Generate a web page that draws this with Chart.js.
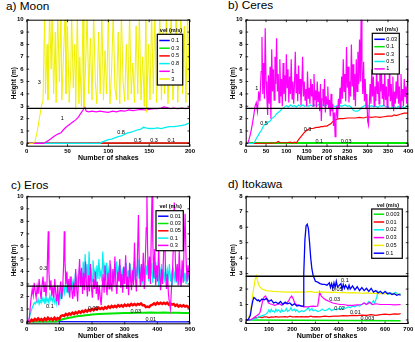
<!DOCTYPE html>
<html>
<head>
<meta charset="utf-8">
<script src="https://cdn.jsdelivr.net/npm/chart.js"></script>
<style>
  body { margin: 0; background: #fff; width: 415px; height: 342px; position: relative; overflow: hidden;
         font-family: "Liberation Sans", Arial, sans-serif; }
  canvas { position: absolute; }
  .ttl { position: absolute; font-size: 11.8px; line-height: 12px; color: #000; white-space: nowrap; }
</style>
</head>
<body>
<div class="ttl" style="left:6px;top:0px">a) Moon</div>
<div class="ttl" style="left:228px;top:-1px">b) Ceres</div>
<div class="ttl" style="left:11px;top:179px">c) Eros</div>
<div class="ttl" style="left:228px;top:177.5px">d) Itokawa</div>
<canvas id="ca" width="207" height="171" style="left:0;top:0"></canvas>
<canvas id="cb" width="208" height="171" style="left:207px;top:0"></canvas>
<canvas id="cc" width="207" height="171" style="left:0;top:171px"></canvas>
<canvas id="cd" width="208" height="171" style="left:207px;top:171px"></canvas>
<script>
// ---- a) Moon, vel (m/s) 0.1 0.3 0.5 0.8 1 3
const moonVel = ['0.1', '0.3', '0.5', '0.8', '1', '3'];
const moon01 = [[0,0],[200,0]];
const moon03 = [[0,0.01],[200,0.01]];
const moon05 = [[0,0],[60,0.01],[120,0.02],[200,0.03]];
const moon08 = [[0,0],[90,0],[92,0.1],[96,0.2],[100,0.3],[104,0.35],[108,0.45],[112,0.55],[116,0.6],[120,0.75],[124,0.85],[128,0.9],[132,1.0],[136,1.1],[140,1.15],[143,1.3],[146,1.25],[150,1.2],[155,1.2],[160,1.25],[165,1.2],[170,1.3],[175,1.35],[180,1.35],[185,1.4],[190,1.45],[194,1.5],[197,1.6],[200,1.65]];
const moon1 = [[0,0],[20,0],[22,0.05],[26,0.2],[30,0.4],[34,0.6],[38,0.75],[42,0.85],[45,1.1],[48,1.3],[52,1.5],[56,1.7],[60,1.9],[63,2.1],[66,2.4],[69,2.7],[71,2.95],[73,2.6],[76,2.55],[80,2.6],[85,2.55],[90,2.6],[95,2.55],[100,2.5],[105,2.6],[110,2.55],[115,2.65],[120,2.6],[125,2.7],[130,2.65],[135,2.7],[140,2.75],[145,2.7],[150,2.75],[155,2.8],[160,2.8],[165,2.85],[168,2.95],[172,2.9],[176,2.8],[180,2.85],[185,2.8],[190,2.85],[195,2.8],[200,2.9]];
const moon3 = [[0,0],[8,0],[10,0.1],[13,1],[16,2.2],[18,3.0],[20,3.5],[22,10.5],[23,4],[25,8],[26,3.5],[28,10.5],[30,6],[31,10.5],[33,4],[35,9],[36,3.3],[38,10.5],[40,5],[42,10.5],[43,3.5],[45,7],[47,10.5],[48,4],[50,9.5],[52,3.3],[54,6],[55,10.5],[57,4.5],[59,8],[60,2.7],[62,10.5],[64,3.2],[65,7],[67,3],[69,10.5],[70,2.9],[72,6],[74,10.5],[76,4],[78,8.5],[80,3.5],[82,10.5],[84,5],[86,3.2],[88,9],[90,4],[92,10.5],[94,3.5],[96,7.5],[98,4],[100,10.5],[102,3.2],[104,6],[106,10.5],[108,4.5],[110,3.5],[112,9],[114,3.2],[116,10.5],[118,5],[120,3.4],[122,8],[124,3.5],[126,10.5],[128,4],[130,6.5],[132,3.3],[134,9.5],[136,4],[138,10.5],[140,3.5],[142,7],[144,3],[146,10.5],[147,2.5],[149,8],[151,3.5],[153,10.5],[155,4],[157,10.5],[159,3.3],[161,6],[163,10.5],[165,3.5],[167,9],[169,4],[171,10.5],[173,3.2],[175,7],[177,10.5],[179,3.5],[181,5.5],[183,10.5],[185,3.3],[187,8],[189,10.5],[191,4],[193,9.5],[195,3.3],[197,10.5],[199,5],[200,10.5]];
const moonLabels = [[15.4,4.9,'3'],[43.6,2.0,'1'],[115.5,0.89,'0.8'],[136,0.21,'0.5'],[156,0.21,'0.3'],[177,0.21,'0.1']];

// ---- b) Ceres, vel (m/s) 0.03 0.1 0.3 0.5 1
const ceresVel = ['0.03', '0.1', '0.3', '0.5', '1'];
const ceres003 = [[0,0],[400,0]];
const ceres01 = [[0,0.02],[400,0.02]];
const ceres03 = [[0,0],[20,0],[40,0.01],[60,0.02],[75,0.05],[80,0.15],[85,0.05],[100,0.05],[110,0.1],[115,0.03],[120,0.1],[125,0.05],[130,0.3],[135,0.5],[140,0.7],[145,0.9],[150,1.05],[155,1.15],[160,1.2],[165,1.2],[170,1.25],[175,1.3],[180,1.3],[185,1.35],[190,1.35],[195,1.4],[200,1.4],[205,1.5],[210,1.6],[214,1.75],[218,1.85],[225,1.95],[230,2.0],[240,2.0],[250,2.05],[260,2.05],[270,2.05],[280,2.1],[290,2.05],[300,2.15],[310,2.1],[320,2.15],[330,2.1],[340,2.15],[350,2.2],[360,2.2],[365,2.3],[370,2.25],[380,2.35],[390,2.45],[400,2.45]];
const ceres05 = [[0,0],[18,0],[22,0.1],[26,0.4],[30,0.6],[34,0.85],[38,1.0],[42,1.3],[46,1.5],[50,1.6],[55,1.7],[60,1.8],[64,2.0],[68,2.1],[72,2.2],[76,2.4],[80,2.5],[84,2.6],[88,2.75],[92,2.85],[96,2.95],[100,3.05],[105,2.95],[110,3.1],[115,3.0],[120,3.05],[125,2.95],[130,3.1],[135,3.0],[140,3.1],[145,3.0],[150,3.05],[155,3.0],[160,3.1],[165,3.0],[170,3.1],[175,3.05],[180,3.15],[185,3.05],[190,3.1],[195,3.0],[200,3.1],[205,3.2],[210,3.0],[215,3.05],[220,2.95],[225,3.05],[230,3.1],[235,3.0],[240,3.05],[245,3.1],[250,3.0],[255,3.05],[260,2.9],[265,2.65],[270,2.6],[275,2.6],[280,2.7],[285,2.9],[290,3.0],[295,3.1],[300,3.05],[305,3.0],[310,3.05],[315,2.95],[320,3.0],[325,2.9],[330,3.05],[335,3.0],[340,3.1],[345,2.95],[350,3.0],[355,2.8],[360,2.9],[365,3.1],[370,2.8],[375,3.0],[380,2.9],[385,3.0],[390,2.85],[395,3.0],[400,2.95]];
const ceres1 = [[0,0],[5,0],[8,0.3],[12,0.8],[16,1.5],[20,2.3],[23,3.0],[26,3.3],[29,2.6],[32,4.2],[35,3.4],[38,5.8],[40,8.6],[42,4.0],[44,6.5],[46,3.6],[48,9.3],[50,5.0],[52,3.8],[54,2.3],[56,5.5],[58,3.2],[60,6.2],[62,2.0],[64,7.6],[66,4.2],[68,6.0],[70,3.5],[72,7.0],[74,4.8],[76,8.5],[78,4.2],[80,5.6],[82,3.3],[84,6.8],[86,3.8],[88,5.2],[90,3.0],[92,6.5],[94,4.0],[96,5.5],[98,3.4],[100,7.2],[102,4.5],[104,6.0],[106,3.3],[108,5.4],[110,4.0],[112,6.8],[114,3.6],[116,5.0],[118,3.2],[120,4.8],[122,7.4],[124,4.1],[126,5.6],[128,3.4],[130,6.3],[132,4.0],[134,5.2],[136,3.1],[138,4.6],[140,7.0],[142,3.8],[144,5.0],[146,3.5],[148,4.4],[150,3.0],[152,5.8],[154,3.6],[156,4.5],[158,3.2],[160,5.2],[162,3.8],[164,4.8],[166,3.0],[168,5.6],[170,3.5],[172,4.3],[174,2.9],[176,5.0],[178,3.4],[180,4.2],[182,2.6],[184,4.8],[186,1.8],[188,3.6],[190,4.4],[192,3.0],[194,5.2],[196,2.5],[198,3.8],[200,3.2],[202,4.6],[204,2.8],[206,3.5],[208,2.2],[210,4.0],[212,2.6],[214,3.2],[216,1.4],[218,2.5],[220,0.55],[222,2.2],[224,3.0],[226,2.0],[228,3.6],[230,2.8],[232,4.5],[234,3.2],[236,5.4],[238,3.6],[240,6.8],[242,4.2],[244,5.6],[246,3.4],[248,7.8],[250,4.5],[252,6.2],[254,3.3],[256,5.0],[258,3.8],[260,8.0],[262,4.6],[264,6.4],[266,3.5],[268,5.6],[270,3.0],[272,6.8],[274,4.2],[276,7.4],[278,4.8],[280,8.4],[282,5.0],[284,10.4],[286,6.0],[288,4.0],[290,6.6],[292,3.4],[294,5.2],[296,2.8],[298,4.0],[300,1.8],[302,1.5],[304,3.0],[306,4.8],[308,3.2],[310,6.0],[312,3.8],[314,5.4],[316,3.0],[318,4.6],[320,3.4],[322,6.2],[324,4.0],[326,5.0],[328,3.2],[330,7.0],[332,4.2],[334,5.6],[336,3.6],[338,4.8],[340,3.0],[342,5.8],[344,3.5],[346,4.6],[348,2.9],[350,5.2],[352,3.8],[354,6.4],[356,3.4],[358,4.8],[360,3.0],[362,5.4],[364,2.6],[366,4.2],[368,3.2],[370,5.0],[372,3.6],[374,6.0],[376,3.2],[378,4.6],[380,2.8],[382,5.6],[384,3.4],[386,4.4],[388,3.0],[390,5.2],[392,3.8],[394,4.6],[396,3.2],[398,5.0],[400,6.8]];
const ceresLabels = [[27,4.45,'1'],[45,1.64,'0.5'],[152,1.1,'0.3'],[181,0.16,'0.1'],[247,0.16,'0.03']];

// ---- c) Eros, vel (m/s) 0.01 0.03 0.05 0.1 0.3
const erosVel = ['0.01', '0.03', '0.05', '0.1', '0.3'];
const eros001 = [[0,0],[500,-0.02]];
const eros003 = [[0,0],[90,0],[95,0.05],[100,0.1],[110,0.18],[120,0.24],[130,0.3],[140,0.35],[150,0.4],[160,0.44],[170,0.47],[180,0.5],[190,0.53],[200,0.56],[220,0.6],[240,0.62],[260,0.64],[280,0.66],[300,0.68],[320,0.68],[340,0.7],[360,0.7],[380,0.72],[400,0.71],[420,0.72],[440,0.71],[460,0.7],[480,0.69],[500,0.68]];
const eros005 = [[0,0],[10,0],[15,0.15],[20,0.05],[25,0.2],[30,0.1],[35,0.25],[40,0.1],[45,0.2],[50,0.08],[55,0.25],[60,0.12],[65,0.3],[70,0.15],[75,0.25],[80,0.12],[85,0.3],[90,0.15],[95,0.28],[100,0.2],[105,0.45],[110,0.5],[115,0.45],[120,0.6],[125,0.5],[130,0.65],[135,0.55],[140,0.7],[145,0.6],[150,0.75],[155,0.65],[160,0.8],[165,0.7],[170,0.85],[175,0.75],[180,0.9],[185,0.8],[190,0.95],[195,0.85],[200,1.0],[205,0.9],[210,1.05],[215,0.95],[220,1.1],[225,1.0],[230,1.1],[235,1.0],[240,1.15],[245,1.05],[250,1.2],[255,1.1],[260,1.25],[265,1.15],[270,1.25],[275,1.15],[280,1.3],[285,1.2],[290,1.3],[295,1.2],[300,1.35],[305,1.25],[310,1.35],[315,1.25],[320,1.4],[325,1.3],[330,1.4],[335,1.3],[340,1.4],[345,1.35],[350,1.45],[355,1.3],[360,1.3],[365,1.15],[370,1.2],[375,1.15],[380,1.3],[385,1.35],[390,1.45],[395,1.35],[400,1.5],[405,1.4],[410,1.5],[415,1.4],[420,1.5],[425,1.4],[430,1.5],[435,1.35],[440,1.45],[445,1.35],[450,1.4],[455,1.25],[460,1.35],[465,1.2],[470,1.3],[475,1.2],[480,1.3],[485,1.2],[490,1.25],[495,1.15],[500,1.25]];
const eros01 = [[0,0],[5,0],[8,0.3],[11,0.6],[14,0.9],[17,1.1],[20,1.3],[23,1.5],[26,1.4],[29,1.6],[32,1.5],[35,1.8],[38,1.4],[41,1.7],[44,1.5],[47,1.9],[50,1.6],[53,1.8],[56,1.4],[59,2.0],[62,1.6],[65,1.8],[68,1.5],[71,2.1],[74,1.7],[77,1.9],[80,1.6],[83,2.0],[86,1.5],[89,1.8],[92,1.4],[95,2.1],[98,1.7],[101,2.3],[104,1.9],[107,2.6],[110,2.1],[113,2.8],[116,2.3],[119,3.1],[122,2.5],[125,2.9],[128,2.4],[131,3.3],[134,2.7],[137,3.6],[140,2.8],[143,3.2],[146,2.6],[149,3.9],[152,3.0],[155,3.5],[158,2.7],[161,4.2],[164,3.1],[167,3.7],[170,2.9],[173,4.8],[176,3.4],[179,5.4],[182,3.5],[185,4.6],[188,3.0],[191,5.6],[194,3.6],[197,4.3],[200,3.2],[203,4.9],[206,3.7],[209,4.1],[212,3.0],[215,4.5],[218,3.4],[221,5.0],[224,3.6],[227,4.0],[230,3.2],[233,5.6],[236,3.8],[239,4.4],[242,3.3],[245,4.7],[248,3.5],[251,4.1],[254,3.0],[257,4.6],[260,3.6],[263,3.9],[266,3.1],[269,4.4],[272,3.4],[275,4.8],[278,3.7],[281,4.2],[284,3.2],[287,4.5],[290,3.5],[293,4.0],[296,3.0],[299,4.3],[302,3.6],[305,4.7],[308,3.2],[311,4.1],[314,3.4],[317,4.6],[320,3.1],[323,4.0],[326,3.5],[329,4.8],[332,3.3],[335,4.2],[338,3.6],[341,5.0],[344,3.4],[347,4.4],[350,3.0],[353,4.6],[356,3.5],[359,4.1],[362,2.9],[365,4.5],[368,3.7],[371,4.9],[374,3.2],[377,4.3],[380,3.6],[383,4.7],[386,3.1],[389,4.2],[392,3.4],[395,4.8],[398,3.5],[401,4.0],[404,2.8],[407,4.4],[410,3.3],[413,4.6],[416,3.0],[419,3.9],[422,3.4],[425,4.5],[428,3.1],[431,4.1],[434,3.5],[437,4.6],[440,3.2],[443,3.8],[446,2.9],[449,4.3],[452,3.4],[455,4.0],[458,3.1],[461,4.4],[464,3.3],[467,3.8],[470,2.9],[473,4.2],[476,3.5],[479,4.6],[482,3.2],[485,3.9],[488,3.0],[491,4.3],[494,3.4],[497,3.8],[500,3.3]];
const eros03 = [[0,0],[5,0],[8,0.3],[11,1.2],[14,2.0],[17,2.6],[20,2.1],[23,3.1],[26,2.4],[29,1.9],[32,2.8],[35,2.2],[38,3.4],[41,2.5],[44,1.8],[47,2.9],[50,3.6],[53,2.4],[56,3.2],[59,2.0],[62,3.0],[64,5.5],[66,7.2],[68,4.0],[71,2.5],[74,3.3],[77,2.0],[80,2.8],[83,1.9],[86,3.4],[89,2.2],[92,1.6],[95,2.9],[98,1.3],[101,2.4],[104,3.2],[107,1.8],[110,2.6],[113,4.5],[115,7.2],[117,5.0],[120,3.0],[123,4.0],[126,2.3],[129,3.4],[132,1.9],[135,3.6],[138,2.5],[141,1.8],[144,3.1],[147,2.0],[150,4.2],[153,2.6],[156,1.6],[159,3.5],[162,5.0],[165,2.8],[168,4.3],[171,2.2],[174,3.9],[177,2.5],[180,4.8],[183,3.0],[186,2.0],[189,3.7],[192,2.4],[195,4.6],[198,2.8],[201,1.9],[204,3.4],[207,2.6],[210,4.0],[213,2.2],[216,3.2],[219,1.7],[222,2.9],[225,2.0],[228,1.3],[231,2.7],[234,3.8],[237,2.3],[240,4.5],[243,2.9],[246,2.1],[249,3.9],[252,2.6],[255,4.9],[258,3.1],[261,2.4],[264,4.2],[267,2.8],[270,5.2],[273,3.0],[276,2.2],[279,4.0],[282,3.2],[285,5.0],[288,2.7],[291,3.8],[294,2.3],[297,4.4],[300,3.0],[303,5.3],[306,2.6],[309,3.6],[312,2.1],[315,4.7],[318,3.3],[321,2.5],[324,4.1],[327,2.9],[330,6.3],[333,3.4],[336,2.4],[339,5.0],[342,8.5],[345,4.2],[348,2.8],[351,4.6],[354,3.2],[357,5.5],[360,2.6],[363,4.8],[366,7.5],[368,10.5],[370,6.0],[373,3.4],[376,5.2],[379,3.0],[382,8.0],[384,10.5],[386,6.5],[389,3.5],[392,5.8],[395,2.9],[398,4.5],[401,3.2],[404,6.0],[407,3.6],[410,2.5],[413,4.2],[416,3.0],[419,5.3],[422,8.0],[425,4.0],[428,2.6],[431,3.8],[434,2.2],[437,1.5],[440,1.0],[443,2.5],[446,3.8],[449,6.0],[452,9.5],[455,5.0],[458,3.2],[461,4.6],[464,2.9],[467,5.7],[470,3.5],[473,2.8],[476,4.9],[479,3.1],[482,6.2],[485,8.6],[488,5.0],[491,3.2],[494,4.5],[497,3.6],[500,4.0]];
const erosLabels = [[51,4.2,'0.3'],[71,1.17,'0.1'],[204,1.05,'0.05'],[334,0.8,'0.03'],[380,0.17,'0.01']];

// ---- d) Itokawa, vel (m/s) 0.003 0.01 0.02 0.03 0.05 0.1
const itoVel = ['0.003', '0.01', '0.02', '0.03', '0.05', '0.1'];
const ito0003 = [[0,0],[667,-0.05]];
const ito001 = [[0,0],[20,0],[30,0.05],[40,0.15],[50,0.15],[60,0.2],[70,0.15],[80,0.2],[90,0.2],[100,0.15],[110,0.2],[120,0.18],[130,0.22],[140,0.18],[150,0.2],[160,0.2],[170,0.22],[180,0.18],[190,0.25],[200,0.2],[210,0.2],[220,0.22],[230,0.2],[240,0.22],[250,0.2],[260,0.22],[270,0.2],[280,0.25],[290,0.2],[300,0.22],[320,0.2],[340,0.25],[360,0.22],[380,0.25],[400,0.25],[420,0.28],[440,0.26],[460,0.3],[480,0.28],[500,0.32],[520,0.3],[540,0.35],[560,0.3],[580,0.35],[600,0.38],[620,0.35],[640,0.4],[660,0.38],[667,0.42]];
const ito002 = [[0,0],[25,0],[35,0.05],[45,0.1],[55,0.2],[65,0.25],[75,0.3],[85,0.35],[95,0.5],[100,0.65],[105,0.5],[110,0.7],[115,0.55],[120,0.6],[125,0.5],[130,0.7],[135,0.55],[140,0.65],[150,0.5],[155,0.7],[160,0.55],[170,0.6],[175,0.75],[180,0.55],[190,0.65],[195,0.8],[200,0.6],[210,0.7],[215,0.55],[220,0.65],[230,0.5],[240,0.6],[250,0.55],[260,0.65],[270,0.8],[275,0.6],[285,0.75],[290,0.6],[300,0.65],[310,0.55],[320,0.6],[330,0.7],[340,0.6],[350,0.65],[360,0.75],[370,0.6],[380,0.7],[390,0.65],[400,0.75],[410,0.7],[420,0.8],[430,0.75],[440,0.85],[450,0.8],[460,0.9],[470,0.85],[480,0.95],[490,0.9],[500,1.0],[510,1.1],[520,1.0],[530,1.2],[540,1.05],[550,1.25],[555,1.1],[560,1.3],[565,1.5],[568,1.85],[575,1.7],[585,1.75],[595,1.7],[605,1.8],[615,1.65],[625,1.75],[635,1.7],[645,1.8],[655,1.65],[667,1.7]];
const ito003 = [[0,0],[15,0],[25,0.05],[35,0.15],[45,0.25],[55,0.35],[62,0.5],[68,0.9],[74,1.3],[80,1.5],[86,1.55],[92,1.3],[98,1.1],[105,1.05],[115,1.0],[125,0.95],[135,1.0],[145,1.05],[155,0.95],[165,1.1],[175,1.05],[185,1.25],[192,1.45],[198,1.55],[205,1.35],[212,1.05],[220,1.0],[230,0.95],[240,0.9],[250,0.85],[260,0.85],[270,0.85],[280,0.88],[290,0.9],[300,0.88],[310,0.9],[315,1.4],[318,1.8],[325,1.55],[335,1.4],[345,1.3],[360,1.2],[375,1.1],[390,1.05],[405,1.0],[420,1.0],[440,0.95],[460,0.95],[480,0.98],[500,1.0],[510,1.1],[520,1.0],[535,1.15],[545,1.0],[560,1.05],[580,1.0],[600,1.0],[620,1.0],[640,0.98],[667,1.0]];
const ito005 = [[0,0],[10,0],[20,0.5],[25,1.0],[30,1.6],[35,2.1],[40,2.6],[45,2.85],[50,2.6],[55,2.3],[60,2.15],[70,2.0],[80,1.95],[90,1.9],[100,1.88],[120,1.85],[140,1.83],[160,1.82],[180,1.8],[200,1.8],[220,1.82],[240,1.8],[260,1.82],[280,1.85],[290,1.8],[300,1.78],[320,1.82],[340,1.8],[360,1.78],[380,1.8],[400,1.76],[420,1.78],[440,1.75],[460,1.77],[480,1.75],[500,1.73],[520,1.75],[540,1.72],[560,1.73],[580,1.7],[600,1.72],[620,1.7],[640,1.68],[660,1.65],[667,1.68]];
const ito01 = [[0,0],[10,0],[20,0.3],[25,0.8],[30,1.2],[35,1.45],[40,1.4],[50,1.25],[55,1.3],[60,1.2],[70,1.35],[80,1.3],[90,1.4],[100,1.2],[110,1.3],[120,1.1],[130,1.15],[140,1.05],[150,1.2],[160,1.0],[170,1.15],[180,1.05],[190,1.1],[200,0.95],[210,1.05],[220,0.9],[230,0.95],[240,0.9],[248,0.9],[250,3],[255,5.2],[260,6.1],[265,6.2],[270,5.9],[275,5.0],[280,4.0],[285,3.3],[290,2.9],[295,2.7],[300,2.5],[310,2.45],[320,2.35],[330,2.3],[340,2.3],[350,2.25],[360,2.4],[365,2.1],[370,2.35],[375,2.05],[380,2.4],[385,2.1],[390,2.5],[395,2.15],[400,2.2],[410,2.35],[415,2.0],[420,2.3],[425,2.05],[430,2.25],[440,2.0],[445,2.25],[450,2.0],[460,2.2],[470,1.95],[480,2.15],[490,1.9],[500,2.1],[510,1.9],[520,2.05],[530,1.85],[540,2.05],[550,1.8],[560,1.9],[570,1.75],[580,1.85],[590,1.7],[600,1.85],[610,1.7],[620,1.75],[630,1.65],[640,1.7],[650,1.6],[660,1.65],[667,1.6]];
const itoLabels = [[427,2.53,'0.1'],[394,2.0,'0.05'],[383,1.34,'0.03'],[404,0.76,'0.02'],[472,0.47,'0.01'],[524,0.1,'0.003']];

// tick values and the break between lower and upper axes
const yTicks10 = [0,1,2,3,4,5,6,7,8,9,10];
const yTicks8 = [0,1,2,3,4,5,6,7,8];
const breakAt = 2.83;

const BLUE = '#0000ff', GREEN = '#00e600', RED = '#ff0000', CYAN = '#00f0f0', MAG = '#ff00ff', YEL = '#f0f000';
const FONT = '"Liberation Sans", Arial, sans-serif';

function line(ctx, x1, y1, x2, y2) {
  ctx.beginPath(); ctx.moveTo(x1, y1); ctx.lineTo(x2, y2); ctx.stroke();
}

// box, inward ticks, axis break, curve labels and legend
const framePlugin = {
  id: 'frame',
  afterDraw(chart) {
    const ex = chart.$extra;
    const { ctx, chartArea: a, scales: { x, y } } = chart;
    ctx.save();
    ctx.strokeStyle = '#000';
    ctx.lineWidth = 0.8;
    x.ticks.forEach(t => {
      const px = x.getPixelForValue(t.value);
      line(ctx, px, a.bottom, px, a.bottom - 2.5);
      line(ctx, px, a.top, px, a.top + 2.5);
    });
    y.ticks.forEach(t => {
      const py = y.getPixelForValue(t.value);
      line(ctx, a.left, py, a.left + 2.5, py);
      line(ctx, a.right, py, a.right - 2.5, py);
    });
    const yb = y.getPixelForValue(breakAt);
    ctx.lineWidth = 1.4;
    line(ctx, a.left, yb, a.right, yb);
    ctx.lineWidth = 1;
    ctx.strokeRect(a.left + 0.5, a.top + 0.5, a.width - 1, a.height - 1);

    ctx.fillStyle = '#000';
    ctx.font = '5.5px ' + FONT;
    ctx.textAlign = 'center';
    ctx.textBaseline = 'middle';
    ex.labels.forEach(([lx, ly, txt]) => ctx.fillText(txt, x.getPixelForValue(lx), y.getPixelForValue(ly)));

    const L = ex.legend;
    const bx = a.right - L.right - L.w, by = a.top + L.top;
    ctx.fillStyle = '#fff';
    ctx.fillRect(bx, by, L.w, L.h);
    ctx.strokeStyle = '#000';
    ctx.lineWidth = 1.2;
    ctx.strokeRect(bx, by, L.w, L.h);
    ctx.fillStyle = '#000';
    ctx.font = 'bold 5.5px ' + FONT;
    ctx.fillText('vel (m/s)', bx + L.w / 2 + 1, by - 3.8);
    ctx.font = '5.6px ' + FONT;
    ctx.textAlign = 'left';
    ex.names.forEach((n, i) => {
      const ry = by + L.first + i * L.step;
      ctx.strokeStyle = ex.colors[i];
      ctx.lineWidth = 1.5;
      line(ctx, bx + 2, ry, bx + 12.5, ry);
      ctx.fillText(n, bx + 14, ry);
    });
    ctx.restore();
  }
};

function makePanel(p) {
  const chart = new Chart(document.getElementById(p.id), {
    type: 'line',
    data: {
      datasets: p.series.map((s, i) => ({
        data: s, borderColor: p.colors[i], borderWidth: p.widths[i],
        pointRadius: 0, tension: 0, fill: false, order: -i
      }))
    },
    options: {
      responsive: false, animation: false, devicePixelRatio: 1,
      layout: { padding: { left: p.padLeft, right: p.padRight, top: p.padTop, bottom: 0 } },
      plugins: { legend: { display: false }, tooltip: { enabled: false } },
      scales: {
        x: {
          type: 'linear', min: 0, max: p.xMax,
          grid: { display: false, drawTicks: false }, border: { display: false },
          ticks: { stepSize: p.xStep, padding: p.xTickPad, maxRotation: 0, autoSkip: false,
                   color: '#000', font: { family: FONT, size: 6, weight: 'bold' } },
          title: { display: true, text: 'Number of shakes', color: '#000',
                   font: { family: FONT, size: 7, weight: 'bold' }, padding: { top: 0, bottom: p.xTitlePad } },
          afterFit(s) { s.height = p.xAxisH; }
        },
        y: {
          type: 'linear', min: p.yMin, max: p.yMax,
          afterBuildTicks(s) { s.ticks = p.yTicks.map(v => ({ value: v })); },
          grid: { display: false, drawTicks: false }, border: { display: false },
          ticks: { padding: 3, color: '#000', font: { family: FONT, size: 6, weight: 'bold' } },
          title: { display: true, text: 'Height (m)', color: '#000',
                   font: { family: FONT, size: 6.5, weight: 'bold' }, padding: { top: 10.5, bottom: 0 } },
          afterFit(s) { s.width = 26.7; }
        }
      }
    },
    plugins: [framePlugin, { id: 'extra', beforeInit(c) { c.$extra = p; } }]
  });
  return chart;
}

makePanel({
  id: 'ca', series: [moon01, moon03, moon05, moon08, moon1, moon3],
  names: moonVel, colors: [BLUE, GREEN, RED, CYAN, MAG, YEL], widths: [1.2, 1.2, 1.5, 1.3, 1.2, 1],
  labels: moonLabels, xMax: 200, xStep: 50, yMin: -0.27, yMax: 10, yTicks: yTicks10,
  padLeft: 0, padRight: 17, padTop: 19.7, xAxisH: 24.3, xTickPad: 1.4, xTitlePad: 8.7,
  legend: { right: 7.3, top: 14.6, w: 25.4, h: 50.7, first: 6.2, step: 7.7 }
});
makePanel({
  id: 'cb', series: [ceres003, ceres01, ceres03, ceres05, ceres1],
  names: ceresVel, colors: [BLUE, GREEN, RED, CYAN, MAG], widths: [1.2, 2, 1.2, 1.2, 1.2],
  labels: ceresLabels, xMax: 400, xStep: 50, yMin: -0.27, yMax: 10, yTicks: yTicks10,
  padLeft: 12, padRight: 6.7, padTop: 19.7, xAxisH: 24.3, xTickPad: 1.4, xTitlePad: 8.7,
  legend: { right: 9, top: 13.6, w: 27, h: 40.7, first: 6, step: 7.4 }
});
makePanel({
  id: 'cc', series: [eros001, eros003, eros005, eros01, eros03],
  names: erosVel, colors: [BLUE, GREEN, RED, CYAN, MAG], widths: [1.2, 2, 2.5, 1.2, 1.2],
  labels: erosLabels, xMax: 500, xStep: 100, yMin: -0.22, yMax: 10, yTicks: yTicks10,
  padLeft: 0, padRight: 17, padTop: 25.3, xAxisH: 17.7, xTickPad: 1.6, xTitlePad: 2.1,
  legend: { right: 6.7, top: 14.4, w: 27.3, h: 40, first: 5.5, step: 7.3 }
});
makePanel({
  id: 'cd', series: [ito0003, ito001, ito002, ito003, ito005, ito01],
  names: itoVel, colors: [GREEN, RED, CYAN, MAG, YEL, BLUE], widths: [1.5, 1.2, 1.2, 1.2, 1.2, 1.3],
  labels: itoLabels, xMax: 700, xStep: 100, yMin: -0.26, yMax: 8, yTicks: yTicks8,
  padLeft: 12, padRight: 6.7, padTop: 25.3, xAxisH: 18, xTickPad: 1.6, xTitlePad: 2.1,
  legend: { right: 6, top: 12.7, w: 30.6, h: 49.3, first: 5.2, step: 7.8 }
});
</script>
</body>
</html>
